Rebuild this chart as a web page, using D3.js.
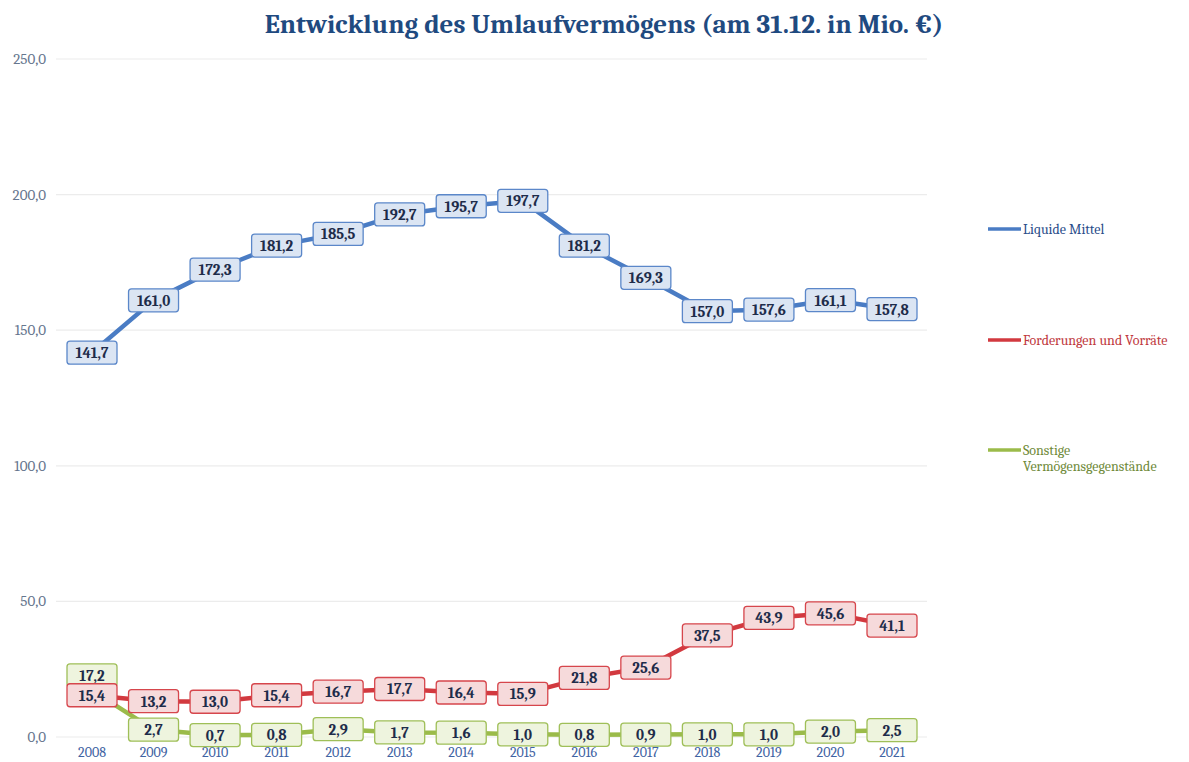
<!doctype html>
<html>
<head>
<meta charset="utf-8" />
<title>Entwicklung des Umlaufvermögens</title>
<script src="https://cdn.jsdelivr.net/npm/d3@7"></script>
<style>
  html, body { margin: 0; padding: 0; background: #fff; overflow: hidden; }
  svg { display: block; }
</style>
</head>
<body>
<script>
// data
const years = ["2008","2009","2010","2011","2012","2013","2014","2015","2016","2017","2018","2019","2020","2021"];
const liquide = [141.7,161.0,172.3,181.2,185.5,192.7,195.7,197.7,181.2,169.3,157.0,157.6,161.1,157.8];
const forderungen = [15.4,13.2,13.0,15.4,16.7,17.7,16.4,15.9,21.8,25.6,37.5,43.9,45.6,41.1];
const sonstige = [17.2,2.7,0.7,0.8,2.9,1.7,1.6,1.0,0.8,0.9,1.0,1.0,2.0,2.5];
const yTicks = [0,50,100,150,200,250];

const series = [
  { name: ["Liquide Mittel"], values: liquide, line: "#4a7cc4", box: "#dbe5f3", border: "#5b87c9", text: "#2a4d8a", ly: 229 },
  { name: ["Forderungen und Vorräte"], values: forderungen, line: "#d2393f", box: "#f6dadb", border: "#d6464c", text: "#c0393e", ly: 340 },
  { name: ["Sonstige", "Vermögensgegenstände"], values: sonstige, line: "#9bbb4a", box: "#eef4de", border: "#9fbf58", text: "#6f8a3a", ly: 450 }
];

const W = 1189, H = 762;
const serif = "Cambria, 'DejaVu Serif', 'Liberation Serif', serif";
const svg = d3.select("body").append("svg").attr("width", W).attr("height", H);

const x = d3.scalePoint().domain(years).range([92, 892]);
const y = d3.scaleLinear().domain([0, 250]).range([737, 59]);
const fmt = v => d3.format(".1f")(v).replace(".", ",");

// title
svg.append("text")
  .attr("x", 604).attr("y", 33)
  .attr("text-anchor", "middle")
  .style("font", "bold 27px " + serif)
  .attr("fill", "#1f4a80")
  .text("Entwicklung des Umlaufvermögens (am 31.12. in Mio. €)");

// grid
svg.append("g").selectAll("line").data(yTicks).join("line")
  .attr("x1", 56).attr("x2", 927)
  .attr("y1", d => y(d)).attr("y2", d => y(d))
  .attr("stroke", "#ececec").attr("stroke-width", 1.2);

// y axis labels
svg.append("g").selectAll("text").data(yTicks).join("text")
  .attr("x", 46).attr("y", d => y(d) + 5)
  .attr("text-anchor", "end")
  .style("font", "15px " + serif)
  .attr("fill", "#66768e")
  .text(d => fmt(d));

// x axis labels
svg.append("g").selectAll("text").data(years).join("text")
  .attr("x", d => x(d)).attr("y", 757)
  .attr("text-anchor", "middle")
  .style("font", "14px " + serif)
  .attr("fill", "#3f63a3")
  .text(d => d);

const line = d3.line().x((d, i) => x(years[i])).y(d => y(d));

// lines (green first so red/blue sit on top)
[2, 1, 0].forEach(k => {
  const s = series[k];
  svg.append("path")
    .datum(s.values)
    .attr("d", line)
    .attr("fill", "none")
    .attr("stroke", s.line)
    .attr("stroke-width", 4.5)
    .attr("stroke-linejoin", "round");
});

// data labels
[2, 1, 0].forEach(k => {
  const s = series[k];
  const g = svg.append("g").selectAll("g").data(s.values).join("g")
    .attr("transform", (d, i) => {
      let dy = 0;
      if (k === 2 && i === 0) dy = -15; // moved up to avoid overlap, like the original
      return `translate(${x(years[i])},${y(d) + dy})`;
    });
  g.append("rect")
    .attr("x", -25).attr("y", -11.5).attr("width", 50).attr("height", 23)
    .attr("rx", 3)
    .attr("fill", s.box)
    .attr("stroke", s.border).attr("stroke-width", 1.3);
  g.append("text")
    .attr("y", 5.5)
    .attr("text-anchor", "middle")
    .style("font", "bold 15px " + serif)
    .attr("fill", "#1e2c4a")
    .text(d => fmt(d));
});

// legend
const lg = svg.append("g").selectAll("g").data(series).join("g")
  .attr("transform", d => `translate(988,${d.ly})`);
lg.append("line")
  .attr("x1", 0).attr("x2", 33).attr("y1", 0).attr("y2", 0)
  .attr("stroke", d => d.line).attr("stroke-width", 3.5);
lg.append("text")
  .style("font", "14px " + serif)
  .attr("fill", d => d.text)
  .selectAll("tspan").data(d => d.name).join("tspan")
  .attr("x", 35).attr("y", (d, i) => 5 + i * 16)
  .text(d => d);
</script>
</body>
</html>
